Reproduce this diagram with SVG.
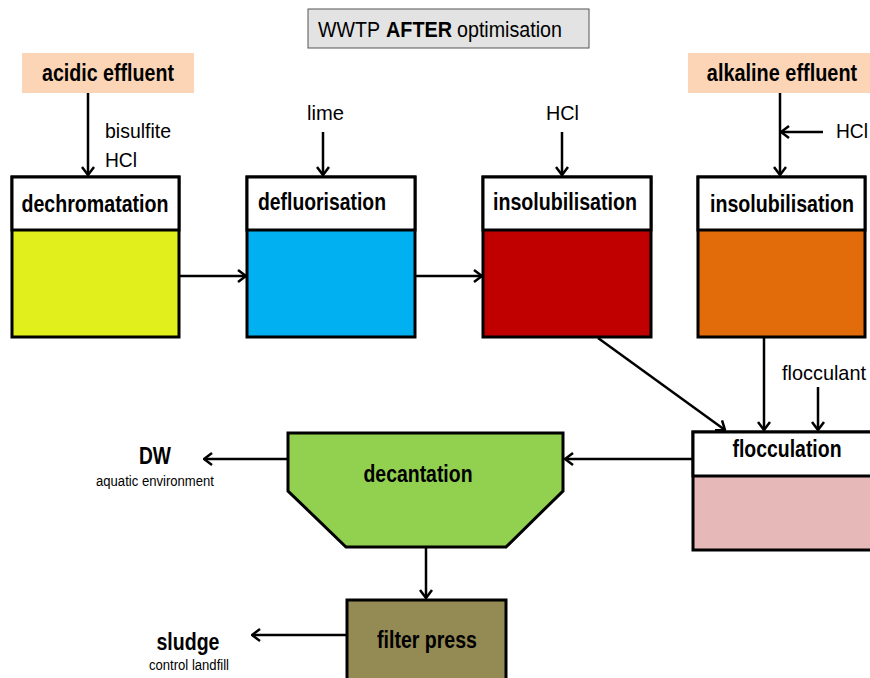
<svg xmlns="http://www.w3.org/2000/svg" width="870" height="678" viewBox="0 0 870 678">
<defs>
<marker id="ah" viewBox="0 0 10 14" refX="9" refY="7" markerWidth="10" markerHeight="14" markerUnits="userSpaceOnUse" orient="auto">
<path d="M1,1 L9,7 L1,13" fill="none" stroke="#000" stroke-width="2.5"/>
</marker>
<style>
.t{font-family:"Liberation Sans",Arial,sans-serif;fill:#000}
.b{font-weight:bold;font-size:23px;text-anchor:middle}
.r{font-size:21px}
.s{font-size:14px;text-anchor:middle}
.box{stroke:#000;stroke-width:3}
.hd{fill:#fff;stroke:#000;stroke-width:3}
.c{fill:none;stroke:#000;stroke-width:2.5;marker-end:url(#ah)}
</style>
</defs>
<rect width="870" height="678" fill="#fff"/>

<g id="title">
<rect x="308" y="9" width="281" height="39" fill="#e3e3e3" stroke="#555" stroke-width="1"/>
<text class="t" font-size="22" x="318" y="37" textLength="62" lengthAdjust="spacingAndGlyphs">WWTP</text>
<text class="t" font-size="22" font-weight="bold" x="386" y="37" textLength="66" lengthAdjust="spacingAndGlyphs">AFTER</text>
<text class="t" font-size="22" x="457" y="37" textLength="105" lengthAdjust="spacingAndGlyphs">optimisation</text>
</g>

<g id="acidic">
<rect x="22" y="53" width="172" height="40" fill="#fbd5b5"/>
<text class="t b" x="108" y="81" textLength="132" lengthAdjust="spacingAndGlyphs">acidic effluent</text>
</g>

<g id="alkaline">
<rect x="688" y="53" width="182" height="40" fill="#fbd5b5"/>
<text class="t b" transform="translate(782,81) scale(0.865,1)" x="0" y="0">alkaline effluent</text>
</g>

<g id="dechromatation">
<rect class="box" x="12" y="177" width="167" height="160" fill="#e1ef1d"/>
<rect class="hd" x="12" y="177" width="167" height="53"/>
<text class="t b" x="95" y="212" textLength="147" lengthAdjust="spacingAndGlyphs">dechromatation</text>
</g>

<g id="defluorisation">
<rect class="box" x="247" y="177" width="168" height="160" fill="#00b0f0"/>
<rect class="hd" x="247" y="177" width="168" height="53"/>
<text class="t b" x="322" y="210" textLength="128" lengthAdjust="spacingAndGlyphs">defluorisation</text>
</g>

<g id="insolubilisation1">
<rect class="box" x="483" y="177" width="168" height="160" fill="#c00000"/>
<rect class="hd" x="483" y="177" width="168" height="53"/>
<text class="t b" x="565" y="210" textLength="144" lengthAdjust="spacingAndGlyphs">insolubilisation</text>
</g>

<g id="insolubilisation2">
<rect class="box" x="698" y="177" width="167" height="160" fill="#e36c0a"/>
<rect class="hd" x="698" y="177" width="167" height="53"/>
<text class="t b" transform="translate(782,212) scale(0.855,1)" x="0" y="0">insolubilisation</text>
</g>

<g id="flocculation">
<rect class="box" x="693" y="432" width="190" height="118" fill="#e6b8b7"/>
<rect class="hd" x="693" y="432" width="190" height="44"/>
<text class="t b" x="787" y="457" textLength="109" lengthAdjust="spacingAndGlyphs">flocculation</text>
</g>

<g id="decantation">
<path class="box" d="M288,433 L563,433 L563,491 L506,547 L346,547 L288,491 Z" fill="#92d050"/>
<text class="t b" x="418" y="482" textLength="109" lengthAdjust="spacingAndGlyphs">decantation</text>
</g>

<g id="filterpress">
<rect class="box" x="347" y="600" width="159" height="90" fill="#948a54"/>
<text class="t b" x="427" y="648" textLength="100" lengthAdjust="spacingAndGlyphs">filter press</text>
</g>

<g id="outputs">
<text class="t b" x="155" y="464" textLength="32" lengthAdjust="spacingAndGlyphs">DW</text>
<text class="t s" x="155" y="486" textLength="118" lengthAdjust="spacingAndGlyphs">aquatic environment</text>
<text class="t b" x="188" y="650" textLength="63" lengthAdjust="spacingAndGlyphs">sludge</text>
<text class="t s" x="189" y="670" textLength="80" lengthAdjust="spacingAndGlyphs">control landfill</text>
</g>

<g id="labels">
<text class="t r" x="105" y="138" textLength="66" lengthAdjust="spacingAndGlyphs">bisulfite</text>
<text class="t r" x="105" y="167" textLength="32" lengthAdjust="spacingAndGlyphs">HCl</text>
<text class="t r" x="307" y="120" textLength="37" lengthAdjust="spacingAndGlyphs">lime</text>
<text class="t r" x="546" y="120" textLength="33" lengthAdjust="spacingAndGlyphs">HCl</text>
<text class="t r" x="836" y="138" textLength="32" lengthAdjust="spacingAndGlyphs">HCl</text>
<text class="t r" x="782" y="380" textLength="84" lengthAdjust="spacingAndGlyphs">flocculant</text>
</g>

<g id="connectors">
<line class="c" x1="88" y1="93" x2="88" y2="175"/>
<line class="c" x1="323" y1="132" x2="323" y2="175"/>
<line class="c" x1="562" y1="132" x2="562" y2="175"/>
<line class="c" x1="780" y1="93" x2="780" y2="175"/>
<line class="c" x1="823" y1="132" x2="781" y2="132"/>
<line class="c" x1="179" y1="276" x2="246" y2="276"/>
<line class="c" x1="415" y1="276" x2="482" y2="276"/>
<line class="c" x1="598" y1="338" x2="725" y2="430"/>
<line class="c" x1="764" y1="337" x2="764" y2="430"/>
<line class="c" x1="818" y1="387" x2="818" y2="430"/>
<line class="c" x1="693" y1="459" x2="565" y2="459"/>
<line class="c" x1="288" y1="459" x2="204" y2="459"/>
<line class="c" x1="426" y1="547" x2="426" y2="598"/>
<line class="c" x1="347" y1="635" x2="252" y2="635"/>
</g>
</svg>
